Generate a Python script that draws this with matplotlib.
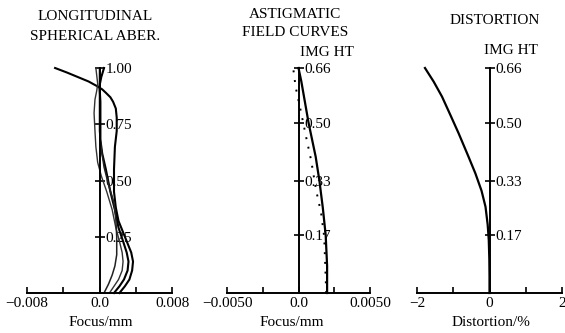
import matplotlib
matplotlib.use("Agg")
import matplotlib.pyplot as plt

plt.rcParams['font.family'] = ['Liberation Serif', 'DejaVu Serif']

# longitudinal spherical aberration: (pupil height, focus shift in mm)
lsa_c1_h = [0.0, 0.03, 0.06, 0.10, 0.14, 0.18, 0.22, 0.27, 0.32, 0.38, 0.45, 0.55, 0.65, 0.72, 0.78, 0.82, 0.85, 0.87, 0.89, 0.905, 0.92, 0.94, 0.96, 0.98, 1.0]
lsa_c1_f = [0.0022, 0.0028, 0.0033, 0.0036, 0.0037, 0.0035, 0.0031, 0.0026, 0.0021, 0.0018, 0.0016, 0.0016, 0.0017, 0.0019, 0.0019, 0.0018, 0.0015, 0.0012, 0.0007, 0.0003, -0.0003, -0.0012, -0.0024, -0.0036, -0.0049]
lsa_c2_h = [0.0, 0.03, 0.06, 0.10, 0.14, 0.18, 0.23, 0.29, 0.37, 0.45, 0.55, 0.62, 0.68, 0.75, 0.85, 0.92, 0.96, 1.0]
lsa_c2_f = [0.0016, 0.0022, 0.0027, 0.0031, 0.0032, 0.0030, 0.0026, 0.0021, 0.0017, 0.0012, 0.0007, 0.0003, 0.0001, 0.0001, 0.0001, 0.0, 0.0002, 0.0005]
lsa_c3_h = [0.0, 0.03, 0.06, 0.10, 0.14, 0.18, 0.23, 0.29, 0.37, 0.45, 0.52, 0.58, 0.65, 0.72, 0.80, 0.86, 0.90, 0.93, 1.0]
lsa_c3_f = [0.0011, 0.0016, 0.0021, 0.0025, 0.0026, 0.0025, 0.0022, 0.0018, 0.0014, 0.0008, 0.0002, -0.0002, -0.0004, -0.0005, -0.0006, -0.0005, -0.0003, -0.0002, -0.0004]
lsa_c4_h = [0.0, 0.04, 0.08, 0.12, 0.17, 0.25, 0.33, 0.40, 0.48, 0.56, 0.64, 0.72, 0.85, 1.0]
lsa_c4_f = [0.0005, 0.0010, 0.0014, 0.0017, 0.0019, 0.0019, 0.0018, 0.0016, 0.0010, 0.0005, 0.0002, 0.0, 0.0, 0.0]

# astigmatic field curves: (image height, focus in mm)
ast_h = [0.0, 0.08, 0.17, 0.25, 0.33, 0.40, 0.45, 0.50, 0.56, 0.62, 0.66]
ast_solid = [0.0020, 0.0020, 0.0019, 0.0017, 0.00146, 0.0012, 0.00095, 0.0007, 0.00045, 0.0002, 0.0]
ast_dot_h = [0.0, 0.164, 0.235, 0.302, 0.39, 0.458, 0.528, 0.604, 0.669]
ast_dot = [0.00194, 0.0018, 0.00158, 0.00123, 0.00088, 0.00053, 0.00019, -0.0002, -0.0004]

# distortion: (image height, %)
dist_h = [0.0, 0.05, 0.10, 0.155, 0.20, 0.253, 0.30, 0.351, 0.40, 0.468, 0.52, 0.576, 0.62, 0.66]
dist_v = [0.0, 0.0, -0.005, -0.02, -0.05, -0.11, -0.22, -0.39, -0.58, -0.85, -1.07, -1.31, -1.54, -1.78]

W, H = 565, 333
fig = plt.figure(figsize=(W / 100, H / 100), dpi=100)


def make_axes(x0, x1, y0=293, y1=68):
    return fig.add_axes([x0 / W, 1 - y0 / H, (x1 - x0) / W, (y0 - y1) / H])


def setup(ax, xlim, ymax, xticks, xlabels, yticks, ylabels):
    ax.set_xlim(xlim)
    ax.set_ylim(0, ymax)
    ax.patch.set_visible(False)
    ax.spines['top'].set_visible(False)
    ax.spines['left'].set_visible(False)
    ax.spines['right'].set_position(('data', 0))
    ax.spines['right'].set_linewidth(1.4)
    ax.spines['bottom'].set_linewidth(1.4)
    ax.yaxis.tick_right()
    ax.set_xticks(xticks)
    ax.set_xticklabels(xlabels)
    ax.set_yticks(yticks)
    ax.set_yticklabels(ylabels)
    ax.tick_params(axis='x', direction='in', length=4, width=1.2, pad=3, labelsize=11)
    ax.tick_params(axis='y', direction='inout', length=7, width=1.2, pad=1, labelsize=11)


# panel 1
ax1 = make_axes(27, 172)
setup(ax1, (-0.008, 0.008), 1.0,
      [-0.008, -0.004, 0, 0.004, 0.008], ['\u22120.008', '', '0.0', '', '0.008'],
      [0.25, 0.5, 0.75, 1.0], ['0.25', '0.50', '0.75', '1.00'])
ax1.plot(lsa_c1_f, lsa_c1_h, color='black', lw=1.5, clip_on=False)
ax1.plot(lsa_c2_f, lsa_c2_h, color='black', lw=1.5, clip_on=False)
ax1.plot(lsa_c3_f, lsa_c3_h, color='#333333', lw=1.0, clip_on=False)
ax1.plot(lsa_c4_f, lsa_c4_h, color='#222222', lw=1.1, clip_on=False)

# panel 2
ax2 = make_axes(227, 370)
setup(ax2, (-0.005, 0.005), 0.66,
      [-0.005, -0.0025, 0, 0.0025, 0.005], ['\u22120.0050', '', '0.0', '', '0.0050'],
      [0.17, 0.33, 0.50, 0.66], ['0.17', '0.33', '0.50', '0.66'])
ax2.plot(ast_solid, ast_h, color='black', lw=1.6, clip_on=False)
ax2.plot(ast_dot, ast_dot_h, color='black', lw=1.4, linestyle=(0, (1, 4)), clip_on=False)

# panel 3
ax3 = make_axes(417, 562)
setup(ax3, (-2, 2), 0.66,
      [-2, -1, 0, 1, 2], ['\u22122', '', '0', '', '2'],
      [0.17, 0.33, 0.50, 0.66], ['0.17', '0.33', '0.50', '0.66'])
ax3.plot(dist_v, dist_h, color='black', lw=1.6, clip_on=False)


# titles and labels
def ftext(x, y, s):
    fig.text(x / W, 1 - y / H, s, ha='center', va='center', fontsize=11)


ftext(95, 17, 'LONGITUDINAL')
ftext(95, 36, 'SPHERICAL ABER.')
ftext(295, 15, 'ASTIGMATIC')
ftext(295, 33, 'FIELD CURVES')
ftext(327, 53, 'IMG HT')
ftext(495, 20, 'DISTORTION')
ftext(511, 50, 'IMG HT')
ftext(101, 322, 'Focus/mm')
ftext(292, 322, 'Focus/mm')
ftext(491, 322, 'Distortion/%')

fig.savefig('out.png', dpi=100)
